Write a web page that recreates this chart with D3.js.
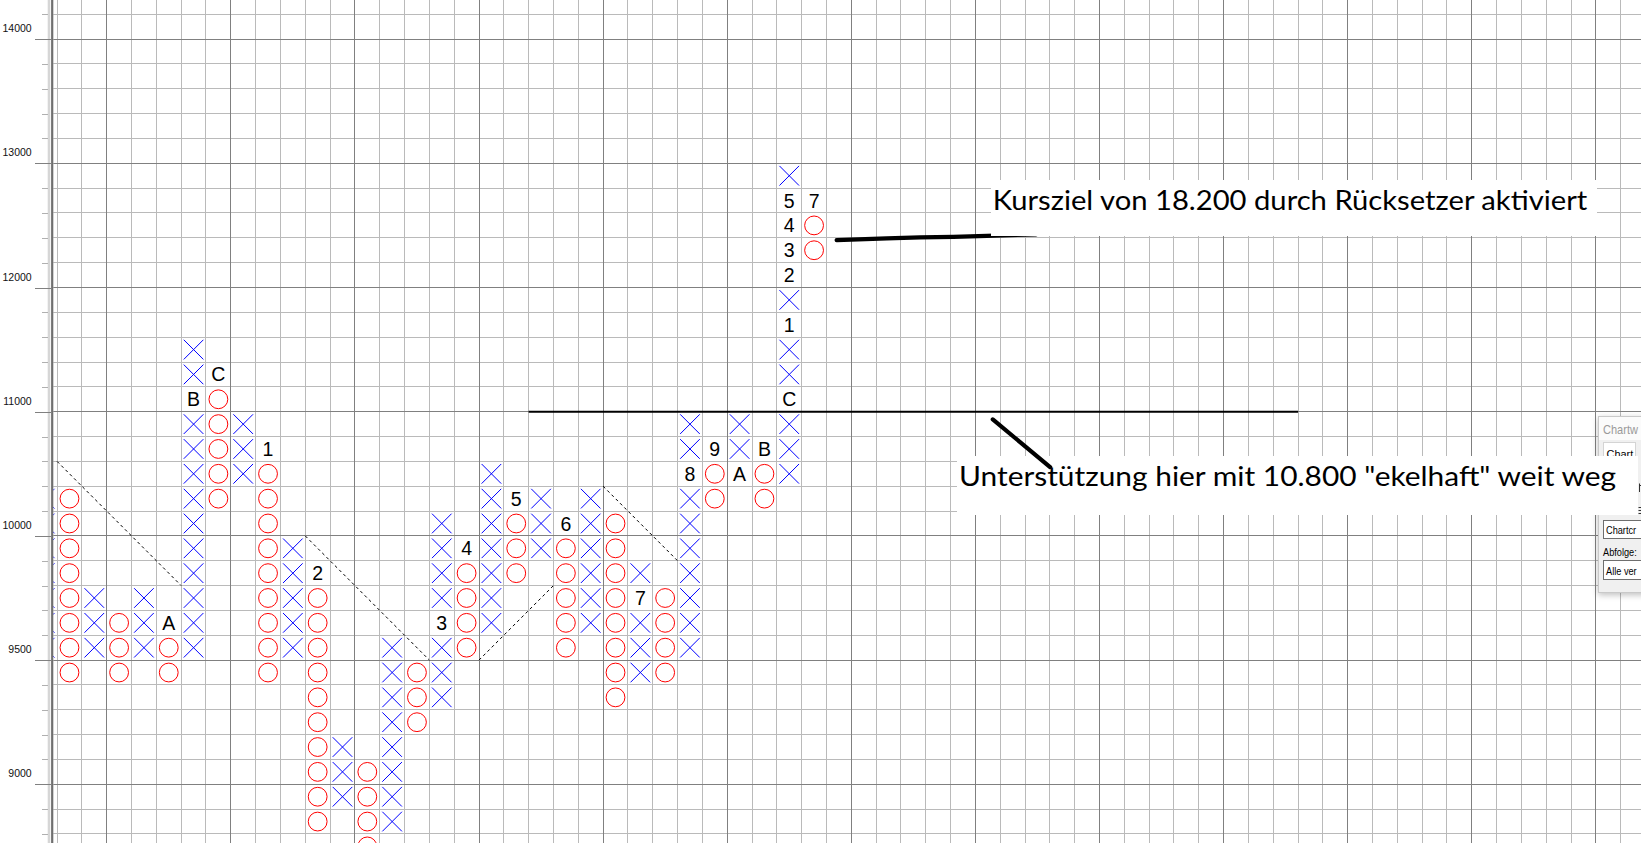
<!DOCTYPE html>
<html><head><meta charset="utf-8">
<script src="https://cdn.jsdelivr.net/npm/d3@7"></script>
<style>html,body{margin:0;padding:0;background:#fff;overflow:hidden}svg{display:block}</style>
</head><body>
<svg id="chart" width="1641" height="843"></svg>
<script>
// ---------------- DATA ----------------
// Y axis labels (price levels on the point & figure grid)
const tickPrices = [9000, 9500, 10000, 11000, 12000, 13000, 14000];
const tickLabels = ["9000", "9500", "10000", "11000", "12000", "13000", "14000"];

// Point & figure columns (box bottoms; box size 100 below 10000, 200 above)
const colIndex = [-3, -2, -1, 0, 1, 2, 3, 4, 5, 6, 7, 8, 9, 10, 11, 12, 13, 14, 15, 16, 17, 18, 19, 20, 21, 22, 23, 24, 25, 26, 27, 28];
const colType  = ["X","O","X","O","X","O","X","O","X","O","X","O","X","O","X","O","X","O","X","O","X","O","X","O","X","O","X","O","X","O","X","O"];
const colLow   = [9500, 9400, 9500, 9400, 9500, 9400, 9500, 10200, 10400, 9400, 9500, 8800, 8900, 8700, 8800, 9200, 9300, 9500, 9600, 9800, 9900, 9500, 9600, 9300, 9400, 9400, 9500, 10200, 10400, 10200, 10400, 12200];
const colHigh  = [10200, 10200, 9700, 9600, 9700, 9600, 11400, 11200, 10800, 10600, 9900, 9800, 9100, 9000, 9500, 9400, 10000, 9900, 10400, 10200, 10200, 10000, 10200, 10000, 9800, 9700, 10800, 10600, 10800, 10600, 12800, 12600];

// Month markers replacing a box
const markerCol   = [2, 3, 4, 6, 8, 13, 14, 16, 18, 21, 23, 24, 25, 26, 27, 27, 27, 27, 27, 27, 28];
const markerPrice = [9600, 11000, 11200, 10600, 9800, 9600, 9900, 10200, 10000, 9700, 10400, 10600, 10400, 10600, 11000, 11600, 12000, 12200, 12400, 12600, 12600];
const markerText  = ["A", "B", "C", "1", "2", "3", "4", "5", "6", "7", "8", "9", "A", "B", "C", "1", "2", "3", "4", "5", "7"];

// Dashed trend lines (column boundary, price level)
const trendFromCol   = [-2, 8, 15, 20];
const trendFromPrice = [10600, 10000, 9500, 10400];
const trendToCol     = [3, 13, 18, 23];
const trendToPrice   = [9800, 9500, 9800, 9900];

// Support line
const supportPrice = 11000;
const supportFromCol = 17;
const supportToCol = 48;

// Hand-drawn annotation strokes (column units, row units)
const targetStrokeCol = [29.41, 31.43, 32.77, 34.11, 35.46, 37.44];
const targetStrokeRow = [21.91, 21.98, 22.02, 22.04, 22.08, 22.14];
const supportStrokeCol = [35.70, 38.01];
const supportStrokeRow = [14.69, 12.77];

const noteTexts = ["Kursziel von 18.200 durch Rücksetzer aktiviert",
                   "Unterstützung hier mit 10.800 \"ekelhaft\" weit weg"];
const dialogTexts = ["Chartw", "Chart", "Chartcr", "Abfolge:", "Alle ver"];

// ---------------- LAYOUT ----------------
const W = 1641, H = 843;
const svg = d3.select("#chart");
svg.append("rect").attr("width", W).attr("height", H).attr("fill", "#fff");

const colX = d3.scaleLinear().domain([0, 60]).range([106.7, 1595.9]);
const rowY = d3.scaleLinear().domain([0, 30]).range([784.3, 39.1]);
const priceY = d3.scaleLinear().domain([8000, 10000, 16000]).range([rowY(-10), rowY(10), rowY(40)]);
const step = p => (p < 10000 ? 100 : 200);

const plotLeft = 53.3;
const defs = svg.append("defs");
defs.append("clipPath").attr("id", "plotclip")
  .append("rect").attr("x", plotLeft).attr("y", 0).attr("width", W - plotLeft).attr("height", H);

const plot = svg.append("g").attr("clip-path", "url(#plotclip)");

// grid
const gGrid = plot.append("g").attr("shape-rendering", "crispEdges");
const rows = d3.range(-4, 33);
const cols = d3.range(-3, 63);
gGrid.selectAll("line.h").data(rows.filter(r => r % 5 !== 0)).join("line")
  .attr("x1", plotLeft).attr("x2", W).attr("y1", d => rowY(d)).attr("y2", d => rowY(d))
  .attr("stroke", "#bababa");
gGrid.selectAll("line.v").data(cols.filter(c => c % 5 !== 0)).join("line")
  .attr("y1", 0).attr("y2", H).attr("x1", d => colX(d)).attr("x2", d => colX(d))
  .attr("stroke", "#bababa");
gGrid.selectAll("line.hm").data(rows.filter(r => r % 5 === 0)).join("line")
  .attr("x1", plotLeft).attr("x2", W).attr("y1", d => rowY(d)).attr("y2", d => rowY(d))
  .attr("stroke", "#808080");
gGrid.selectAll("line.vm").data(cols.filter(c => c % 5 === 0)).join("line")
  .attr("y1", 0).attr("y2", H).attr("x1", d => colX(d)).attr("x2", d => colX(d))
  .attr("stroke", "#808080");

// trend lines
plot.append("g").selectAll("line").data(trendFromCol).join("line")
  .attr("x1", (d, i) => colX(trendFromCol[i])).attr("y1", (d, i) => priceY(trendFromPrice[i]))
  .attr("x2", (d, i) => colX(trendToCol[i])).attr("y2", (d, i) => priceY(trendToPrice[i]))
  .attr("stroke", "#000").attr("stroke-width", 1).attr("stroke-dasharray", "3,3");

// boxes
const markerKey = new Set(markerCol.map((c, i) => c + "_" + markerPrice[i]));
const boxes = [];
colIndex.forEach((c, i) => {
  for (let p = colLow[i]; p <= colHigh[i]; p += step(p)) {
    if (!markerKey.has(c + "_" + p)) boxes.push({ c, p, t: colType[i] });
  }
});
const inset = 2.6;
plot.append("g").selectAll("path").data(boxes.filter(b => b.t === "X")).join("path")
  .attr("d", b => {
    const x0 = colX(b.c) + inset, x1 = colX(b.c + 1) - inset;
    const y0 = priceY(b.p + step(b.p)) + inset, y1 = priceY(b.p) - inset;
    return `M${x0},${y0}L${x1},${y1}M${x1},${y0}L${x0},${y1}`;
  })
  .attr("stroke", "#0000ff").attr("stroke-width", 1).attr("fill", "none");
plot.append("g").selectAll("circle").data(boxes.filter(b => b.t === "O")).join("circle")
  .attr("cx", b => colX(b.c + 0.5))
  .attr("cy", b => (priceY(b.p) + priceY(b.p + step(b.p))) / 2)
  .attr("r", 9.4).attr("fill", "none").attr("stroke", "#ff0000").attr("stroke-width", 1);

// month markers
plot.append("g").selectAll("text").data(markerText).join("text")
  .attr("x", (d, i) => colX(markerCol[i] + 0.5))
  .attr("y", (d, i) => (priceY(markerPrice[i]) + priceY(markerPrice[i] + step(markerPrice[i]))) / 2)
  .attr("dy", "0.36em").attr("text-anchor", "middle")
  .attr("font-family", "Liberation Sans, Arial, sans-serif").attr("font-size", 19.5)
  .attr("fill", "#000").text(d => d);

// ---------------- AXIS ----------------
svg.append("rect").attr("x", 0).attr("y", 0).attr("width", 47.7).attr("height", H).attr("fill", "#fff");
svg.append("rect").attr("x", 47.7).attr("y", 0).attr("width", 2.4).attr("height", H).attr("fill", "#d6d6d6");
svg.append("rect").attr("x", 50.1).attr("y", 0).attr("width", 1).attr("height", H).attr("fill", "#f4f4f4");
svg.append("rect").attr("x", 51.1).attr("y", 0).attr("width", 2.2).attr("height", H).attr("fill", "#6f6f6f");

const minorPrices = rows.map(r => priceY.invert(rowY(r))).filter(p => !tickPrices.some(t => Math.abs(t - p) < 1));
const minorAxis = d3.axisLeft(priceY).tickValues(minorPrices).tickSize(5.4).tickFormat("");
const gMinor = svg.append("g").attr("transform", "translate(47.7,0)").call(minorAxis);
gMinor.select(".domain").remove();
gMinor.selectAll("line").attr("stroke", "#b0b0b0").attr("shape-rendering", "crispEdges");

const majorAxis = d3.axisLeft(priceY).tickValues(tickPrices).tickSize(16.5)
  .tickFormat((d, i) => tickLabels[i]);
const gMajor = svg.append("g").attr("transform", "translate(51.5,0)").call(majorAxis);
gMajor.select(".domain").remove();
gMajor.selectAll("line").attr("stroke", "#808080").attr("shape-rendering", "crispEdges");
gMajor.selectAll("text").attr("x", -19.8).attr("dy", -7.5).attr("text-anchor", "end")
  .attr("font-family", "Liberation Sans, Arial, sans-serif").attr("font-size", 10.5).attr("fill", "#111");

// ---------------- SUPPORT & ANNOTATIONS ----------------
svg.append("line")
  .attr("x1", colX(supportFromCol)).attr("x2", colX(supportToCol))
  .attr("y1", priceY(supportPrice)).attr("y2", priceY(supportPrice))
  .attr("stroke", "#000").attr("stroke-width", 2);

const strokeLine = d3.line().x(d => colX(d[0])).y(d => rowY(d[1]));
svg.append("path").attr("d", strokeLine(targetStrokeCol.map((c, i) => [c, targetStrokeRow[i]])))
  .attr("fill", "none").attr("stroke", "#000").attr("stroke-width", 4.2).attr("stroke-linecap", "round");

// dialog fragment (screenshot remnant at the right edge)
const dlg = svg.append("g");
const f = defs.append("filter").attr("id", "shadow").attr("x", "-50%").attr("y", "-20%").attr("width", "200%").attr("height", "140%");
f.append("feGaussianBlur").attr("in", "SourceAlpha").attr("stdDeviation", 3);
f.append("feOffset").attr("dx", 0).attr("dy", 2).attr("result", "b");
f.append("feFlood").attr("flood-color", "#000").attr("flood-opacity", 0.25);
f.append("feComposite").attr("in2", "b").attr("operator", "in");
const fm = f.append("feMerge"); fm.append("feMergeNode"); fm.append("feMergeNode").attr("in", "SourceGraphic");
dlg.append("rect").attr("x", 1598.5).attr("y", 416.5).attr("width", 60).attr("height", 176)
  .attr("fill", "#f0f0f0").attr("stroke", "#c9c9c9").attr("filter", "url(#shadow)");
dlg.append("rect").attr("x", 1599).attr("y", 417).attr("width", 60).attr("height", 23).attr("fill", "#fbfbfb");
const dfont = "Liberation Sans, Arial, sans-serif";
function dlgText(str, x, y, size, sx, color) {
  dlg.append("text").attr("transform", `translate(${x},${y}) scale(${sx},1)`)
    .attr("font-family", dfont).attr("font-size", size).attr("fill", color).text(str);
}
dlgText(dialogTexts[0], 1603, 433.5, 12, 0.92, "#9a9a9a");
dlg.append("rect").attr("x", 1603.5).attr("y", 442.5).attr("width", 32).attr("height", 20)
  .attr("fill", "#fff").attr("stroke", "#d4d4d4");
dlgText(dialogTexts[1], 1606.5, 457.5, 11.5, 0.95, "#000");
// tiny glyph fragments at the very edge
dlg.append("path").attr("d", "M1639.5,483.5V492M1639.5,485.5H1641M1638.5,507.5H1641M1638.5,510.5H1641M1638.5,513.5H1641")
  .attr("stroke", "#333").attr("stroke-width", 1).attr("fill", "none");
dlg.append("rect").attr("x", 1603.5).attr("y", 520.5).attr("width", 50).attr("height", 18)
  .attr("fill", "#fff").attr("stroke", "#6e6e6e");
dlgText(dialogTexts[2], 1606, 534, 11.5, 0.8, "#000");
dlgText(dialogTexts[3], 1603, 555.5, 11.5, 0.8, "#000");
dlg.append("rect").attr("x", 1603.5).attr("y", 560.5).attr("width", 50).attr("height", 19)
  .attr("fill", "#fff").attr("stroke", "#6e6e6e");
dlgText(dialogTexts[4], 1606, 574.5, 11.5, 0.8, "#000");

// note boxes
const notes = svg.append("g");
notes.append("rect").attr("x", 991).attr("y", 180).attr("width", 606).attr("height", 56).attr("fill", "#fff");
notes.append("text").attr("x", 992.7).attr("y", 209.5).attr("font-family", "Lato, Open Sans, sans-serif")
  .attr("font-size", 26).attr("textLength", 594.6).attr("lengthAdjust", "spacingAndGlyphs")
  .attr("fill", "#000").text(noteTexts[0]);
notes.append("rect").attr("x", 957).attr("y", 456).attr("width", 681).attr("height", 59).attr("fill", "#fff");
notes.append("text").attr("x", 959).attr("y", 485.5).attr("font-family", "Lato, Open Sans, sans-serif")
  .attr("font-size", 26).attr("textLength", 657).attr("lengthAdjust", "spacingAndGlyphs")
  .attr("fill", "#000").text(noteTexts[1]);
// the diagonal stroke is drawn over the note box top edge
svg.append("path").attr("d", strokeLine(supportStrokeCol.map((c, i) => [c, supportStrokeRow[i]])))
  .attr("fill", "none").attr("stroke", "#000").attr("stroke-width", 4.2).attr("stroke-linecap", "round");
</script>
</body></html>
